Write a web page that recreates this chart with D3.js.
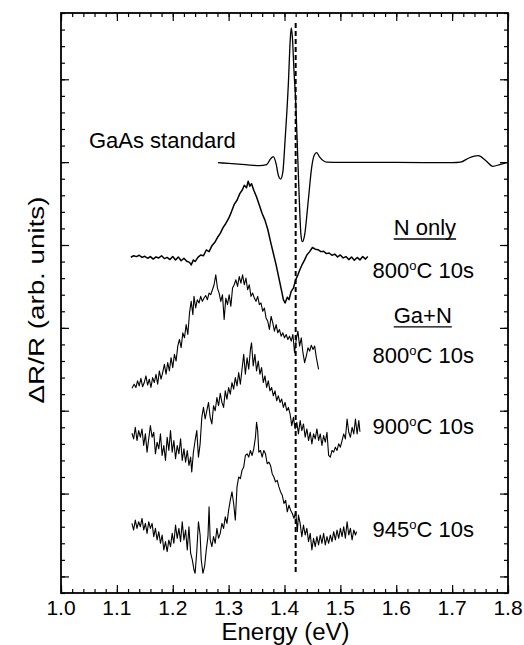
<!DOCTYPE html>
<html>
<head>
<meta charset="utf-8">
<script src="https://cdn.jsdelivr.net/npm/d3@7"></script>
<style>
  body { margin: 0; background: #fff; }
  text { font-family: Arial, "Liberation Sans", sans-serif; fill: #000; }
</style>
</head>
<body>
<div class="canvas" id="canvas" style="width:524px;height:645px"></div>
<script>
// data: [energy (eV), dR/R in arb. units]
var gaasStd = [[1.281,25.97],[1.30,25.92],[1.33,25.85],[1.355,25.79],[1.368,25.85],[1.375,26.2],[1.380,26.33],[1.385,25.9],[1.389,25.2],[1.393,24.98],[1.397,25.4],[1.401,27.3],[1.407,30.8],[1.410,33.2],[1.412,34.1],[1.414,33.6],[1.417,31.5],[1.420,29.7],[1.4235,26.5],[1.4265,23.7],[1.4295,21.6],[1.432,21.2],[1.436,21.6],[1.4426,23.7],[1.4487,25.7],[1.453,26.4],[1.4576,26.57],[1.463,26.3],[1.4755,26.0],[1.50,25.98],[1.60,25.98],[1.70,25.97],[1.715,26.0],[1.73,26.25],[1.747,26.39],[1.76,26.1],[1.773,25.75],[1.785,25.85],[1.797,25.97]];

var nOnly = [[1.125,20.26],[1.130,20.35],[1.135,20.30],[1.140,20.38],[1.145,20.25],[1.150,20.32],[1.155,20.20],[1.160,20.30],[1.165,20.15],[1.170,20.28],[1.175,20.22],[1.180,20.35],[1.185,20.18],[1.190,20.25],[1.195,20.12],[1.200,20.30],[1.205,20.10],[1.210,20.28],[1.215,20.05],[1.220,20.20],[1.225,20.02],[1.230,19.95],[1.233,19.80],[1.237,20.10],[1.240,20.00],[1.245,20.25],[1.250,20.40],[1.255,20.35],[1.260,20.70],[1.265,20.60],[1.270,20.95],[1.275,21.15],[1.280,21.45],[1.285,21.70],[1.290,22.05],[1.295,22.30],[1.300,22.60],[1.305,23.00],[1.310,23.45],[1.315,23.70],[1.320,24.10],[1.325,24.35],[1.328,24.60],[1.332,24.45],[1.335,24.85],[1.338,24.55],[1.341,24.70],[1.345,24.30],[1.350,23.90],[1.355,23.40],[1.360,22.90],[1.365,22.50],[1.370,21.95],[1.375,21.20],[1.380,20.50],[1.385,19.80],[1.390,19.00],[1.395,18.20],[1.398,17.70],[1.401,17.50],[1.405,17.85],[1.408,17.70],[1.412,18.20],[1.416,18.40],[1.420,18.90],[1.424,19.20],[1.428,19.55],[1.432,19.85],[1.436,20.10],[1.440,20.40],[1.445,20.60],[1.450,20.85],[1.455,20.75],[1.460,20.72],[1.465,20.60],[1.470,20.62],[1.475,20.48],[1.480,20.52],[1.485,20.38],[1.490,20.45],[1.495,20.28],[1.500,20.40],[1.505,20.22],[1.510,20.30],[1.515,20.12],[1.520,20.28],[1.525,20.08],[1.530,20.25],[1.535,20.10],[1.540,20.30],[1.545,20.15],[1.549,20.30]];

var gaN800 = [[1.127,12.35],[1.131,12.60],[1.134,12.40],[1.137,12.80],[1.140,12.50],[1.143,12.95],[1.146,12.45],[1.149,12.70],[1.152,13.10],[1.155,12.55],[1.158,12.90],[1.161,12.40],[1.164,13.00],[1.167,12.70],[1.170,13.20],[1.173,12.60],[1.176,13.40],[1.179,12.90],[1.182,13.30],[1.185,13.80],[1.188,13.20],[1.191,13.90],[1.194,13.40],[1.197,14.20],[1.200,13.60],[1.203,14.40],[1.206,14.00],[1.209,14.90],[1.212,15.30],[1.215,14.80],[1.218,15.70],[1.221,15.40],[1.224,16.20],[1.227,15.60],[1.230,16.90],[1.233,17.60],[1.236,16.80],[1.238,17.90],[1.241,17.20],[1.244,17.70],[1.247,17.50],[1.250,17.90],[1.253,17.60],[1.256,17.80],[1.259,17.95],[1.262,17.70],[1.265,18.10],[1.268,18.00],[1.271,18.30],[1.274,18.60],[1.277,19.20],[1.280,18.40],[1.283,18.10],[1.286,17.60],[1.289,18.00],[1.292,16.50],[1.295,17.80],[1.298,17.40],[1.301,18.00],[1.304,17.30],[1.307,18.40],[1.310,18.60],[1.313,18.90],[1.316,18.50],[1.319,19.10],[1.322,18.70],[1.325,19.20],[1.328,18.60],[1.331,19.00],[1.334,18.30],[1.337,18.60],[1.340,17.90],[1.343,18.10],[1.346,17.80],[1.349,17.60],[1.352,17.90],[1.355,17.40],[1.358,17.50],[1.361,17.00],[1.364,17.20],[1.367,16.60],[1.370,16.40],[1.373,15.90],[1.376,16.70],[1.379,16.30],[1.382,15.80],[1.385,16.20],[1.388,15.70],[1.391,15.90],[1.394,15.50],[1.397,15.70],[1.400,15.40],[1.403,15.60],[1.406,15.30],[1.409,15.50],[1.412,15.20],[1.415,15.60],[1.418,14.50],[1.421,15.30],[1.424,15.80],[1.427,14.90],[1.430,15.40],[1.433,14.50],[1.436,13.90],[1.439,14.30],[1.442,14.80],[1.445,14.60],[1.448,14.95],[1.451,14.70],[1.454,14.90],[1.457,14.20],[1.461,13.50]];

var gaN900 = [[1.127,9.64],[1.130,9.30],[1.133,10.00],[1.136,9.20],[1.139,9.80],[1.142,9.40],[1.145,9.90],[1.148,8.90],[1.151,9.60],[1.154,8.50],[1.157,9.30],[1.160,10.10],[1.163,9.40],[1.166,9.70],[1.169,8.40],[1.172,9.10],[1.175,8.70],[1.178,9.60],[1.181,8.30],[1.184,8.90],[1.187,8.00],[1.190,9.40],[1.193,8.60],[1.196,9.80],[1.199,8.50],[1.202,9.20],[1.205,8.10],[1.208,8.90],[1.211,8.40],[1.214,9.30],[1.217,8.00],[1.220,8.70],[1.223,7.90],[1.226,8.60],[1.229,7.70],[1.232,8.20],[1.234,7.30],[1.237,8.50],[1.240,9.20],[1.243,9.80],[1.246,8.20],[1.249,9.00],[1.252,10.60],[1.255,11.20],[1.258,10.50],[1.261,11.00],[1.264,11.50],[1.267,10.60],[1.270,10.20],[1.273,11.30],[1.276,11.00],[1.279,11.80],[1.282,11.30],[1.285,12.05],[1.288,11.50],[1.291,11.20],[1.294,12.20],[1.297,11.70],[1.300,12.40],[1.303,12.00],[1.306,12.70],[1.309,12.30],[1.312,13.00],[1.315,12.50],[1.318,13.30],[1.321,12.60],[1.324,13.50],[1.327,14.40],[1.330,13.20],[1.333,14.20],[1.336,13.50],[1.339,14.70],[1.341,15.10],[1.344,13.70],[1.347,14.40],[1.350,13.40],[1.353,14.00],[1.356,13.20],[1.359,13.60],[1.362,12.70],[1.365,13.10],[1.368,12.40],[1.371,12.80],[1.374,12.20],[1.377,12.40],[1.380,11.90],[1.383,12.20],[1.386,11.60],[1.389,11.90],[1.392,11.50],[1.395,11.70],[1.398,11.20],[1.401,11.50],[1.404,11.00],[1.407,11.20],[1.410,10.80],[1.413,10.10],[1.416,10.60],[1.419,9.90],[1.422,10.30],[1.425,9.60],[1.428,10.40],[1.431,9.80],[1.434,10.20],[1.437,9.40],[1.440,9.90],[1.443,9.20],[1.446,9.70],[1.449,9.00],[1.452,9.60],[1.455,9.30],[1.458,9.90],[1.461,9.20],[1.464,9.60],[1.467,8.90],[1.470,9.50],[1.473,9.10],[1.476,9.70],[1.479,8.30],[1.482,8.20],[1.485,8.60],[1.488,8.50],[1.491,8.80],[1.494,8.60],[1.497,9.00],[1.500,8.80],[1.503,9.20],[1.506,9.60],[1.509,9.30],[1.512,10.50],[1.515,9.70],[1.518,9.40],[1.521,10.00],[1.524,9.60],[1.527,10.50],[1.530,9.60],[1.533,10.40],[1.535,9.73]];

var gaN945 = [[1.127,4.20],[1.130,3.80],[1.133,4.40],[1.136,3.90],[1.139,4.30],[1.142,4.00],[1.145,4.50],[1.148,3.80],[1.151,4.20],[1.154,3.60],[1.157,4.30],[1.160,3.90],[1.163,4.20],[1.166,3.40],[1.169,3.90],[1.172,3.20],[1.175,3.70],[1.178,3.00],[1.181,3.50],[1.184,2.60],[1.187,3.10],[1.190,2.50],[1.193,3.20],[1.196,2.80],[1.199,3.60],[1.202,3.00],[1.205,4.10],[1.208,3.30],[1.211,3.90],[1.214,3.10],[1.217,4.30],[1.220,3.20],[1.223,3.80],[1.226,2.60],[1.229,4.00],[1.232,2.40],[1.235,2.00],[1.238,1.40],[1.240,1.19],[1.243,2.50],[1.246,4.30],[1.249,3.50],[1.251,2.00],[1.254,1.19],[1.257,1.60],[1.260,2.60],[1.263,3.40],[1.265,5.20],[1.267,3.20],[1.270,2.80],[1.273,3.40],[1.276,3.00],[1.279,3.90],[1.282,3.30],[1.285,3.60],[1.288,4.20],[1.291,3.90],[1.294,4.60],[1.297,4.20],[1.300,5.00],[1.303,5.60],[1.306,6.10],[1.309,5.40],[1.312,4.40],[1.315,6.40],[1.318,7.00],[1.321,6.90],[1.324,7.40],[1.327,7.60],[1.330,8.30],[1.333,8.40],[1.336,8.20],[1.339,8.60],[1.342,8.30],[1.345,8.70],[1.348,9.40],[1.350,10.30],[1.352,9.80],[1.354,8.50],[1.357,8.60],[1.360,8.20],[1.363,8.60],[1.366,8.40],[1.369,7.80],[1.372,7.90],[1.375,7.70],[1.378,7.20],[1.381,7.00],[1.384,6.70],[1.387,6.80],[1.390,6.40],[1.393,6.10],[1.396,5.90],[1.399,5.40],[1.402,5.60],[1.405,4.90],[1.408,5.30],[1.411,5.00],[1.414,4.80],[1.417,4.50],[1.420,4.90],[1.423,3.70],[1.425,4.70],[1.428,4.20],[1.431,3.40],[1.434,4.10],[1.437,3.50],[1.440,3.90],[1.443,3.10],[1.446,3.60],[1.449,2.60],[1.452,3.30],[1.455,2.80],[1.458,3.40],[1.461,2.90],[1.464,3.50],[1.467,3.00],[1.470,3.60],[1.473,2.90],[1.476,3.40],[1.479,3.00],[1.482,3.50],[1.485,3.10],[1.488,3.70],[1.491,3.20],[1.494,3.80],[1.497,3.30],[1.500,3.90],[1.503,3.40],[1.506,4.00],[1.509,3.30],[1.512,4.30],[1.515,3.50],[1.518,3.90],[1.521,3.20],[1.524,3.80],[1.527,3.50],[1.529,3.70]];

// GaAs band gap marker
var gapEnergy = 1.42;

var xTicks = [1.0,1.1,1.2,1.3,1.4,1.5,1.6,1.7,1.8];
var yMajor = [1,6,11,16,21,26,31];

// labels next to the traces
var labels = [
    {text:'GaAs standard', x:1.050, y:26.85},
    {text:'N only', x:1.5955, y:21.6, under:true},
    {text:'800', deg:true, x:1.5575, y:18.99},
    {text:'Ga+N', x:1.5955, y:16.3, under:true},
    {text:'800', deg:true, x:1.5575, y:13.86},
    {text:'900', deg:true, x:1.5575, y:9.57},
    {text:'945', deg:true, x:1.5575, y:3.36}
];

var m = {t:13,r:16,b:52,l:61},
    w = 524 - m.l - m.r,
    h = 645 - m.t - m.b;

var svg = d3.select('.canvas')
    .append('svg')
    .attr('width', 524)
    .attr('height', 645);

var plot = svg.append('g').attr('class','plot')
    .attr('transform','translate('+ m.l+','+ m.t+')');

var scaleX = d3.scaleLinear().domain([1.0,1.8]).range([0,w]);
var scaleY = d3.scaleLinear().domain([0,35]).range([h,0]);

//axes - ticks point inward on all four sides
var minorX = d3.range(1.0,1.8001,0.02);
var minorY = d3.range(0,35.001,1);

function tickAxis(axis, len){
    return axis.tickSizeInner(len).tickSizeOuter(0).tickFormat('');
}

plot.append('g').attr('transform','translate(0,'+h+')')
    .call(tickAxis(d3.axisTop(scaleX).tickValues(minorX), 4));
plot.append('g').attr('transform','translate(0,'+h+')')
    .call(tickAxis(d3.axisTop(scaleX).tickValues(xTicks), 8));
plot.append('g')
    .call(tickAxis(d3.axisBottom(scaleX).tickValues(minorX), 4));
plot.append('g')
    .call(tickAxis(d3.axisBottom(scaleX).tickValues(xTicks), 8));
plot.append('g')
    .call(tickAxis(d3.axisRight(scaleY).tickValues(minorY), 4));
plot.append('g')
    .call(tickAxis(d3.axisRight(scaleY).tickValues(yMajor), 8));
plot.append('g').attr('transform','translate('+w+',0)')
    .call(tickAxis(d3.axisLeft(scaleY).tickValues(minorY), 4));
plot.append('g').attr('transform','translate('+w+',0)')
    .call(tickAxis(d3.axisLeft(scaleY).tickValues(yMajor), 8));

plot.selectAll('.domain').remove();
plot.selectAll('.tick line').attr('stroke','#000').attr('stroke-width',1.2);

// frame
plot.append('rect')
    .attr('width', w).attr('height', h)
    .attr('fill','none').attr('stroke','#000').attr('stroke-width',1.8);

// tick labels
plot.selectAll('.xlabel')
    .data(xTicks)
    .enter()
    .append('text').attr('class','xlabel')
    .attr('x', function(d){ return scaleX(d); })
    .attr('y', h + 22)
    .attr('text-anchor','middle')
    .style('font-size','21px')
    .text(function(d){ return d.toFixed(1); });

svg.append('text')
    .attr('x', m.l + w/2 + 1)
    .attr('y', 640)
    .attr('text-anchor','middle')
    .attr('textLength', 128)
    .attr('lengthAdjust','spacingAndGlyphs')
    .style('font-size','23px')
    .text('Energy (eV)');

svg.append('text')
    .attr('transform','translate(44,'+(m.t + h/2 - 3)+') rotate(-90)')
    .attr('text-anchor','middle')
    .attr('textLength', 207)
    .attr('lengthAdjust','spacingAndGlyphs')
    .style('font-size','22px')
    .text('\u0394R/R (arb. units)');

// dashed band-gap line
plot.append('line')
    .attr('x1', scaleX(gapEnergy)).attr('x2', scaleX(gapEnergy))
    .attr('y1', 10).attr('y2', scaleY(1.2))
    .attr('stroke','#000').attr('stroke-width',2)
    .attr('stroke-dasharray','5,3');

// spectra
var smooth = d3.line()
    .x(function(d){ return scaleX(d[0]); })
    .y(function(d){ return scaleY(d[1]); })
    .curve(d3.curveMonotoneX);
var raw = d3.line()
    .x(function(d){ return scaleX(d[0]); })
    .y(function(d){ return scaleY(d[1]); });

plot.append('path').datum(gaasStd)
    .attr('d', smooth).attr('fill','none').attr('stroke','#000').attr('stroke-width',1.3);

var noisy = [nOnly, gaN800, gaN900, gaN945];
plot.selectAll('.trace')
    .data(noisy)
    .enter()
    .append('path').attr('class','trace')
    .attr('d', raw)
    .attr('fill','none')
    .attr('stroke','#000')
    .attr('stroke-width', function(d,i){ return i == 0 ? 1.5 : 1.1; })
    .attr('stroke-linejoin','round');

// trace labels
labels.forEach(function(l){
    var t = plot.append('text')
        .attr('x', scaleX(l.x))
        .attr('y', scaleY(l.y))
        .style('font-size','22px');
    if (l.deg) {
        t.append('tspan').text(l.text);
        t.append('tspan').attr('dy',-8).style('font-size','13px').text('o');
        t.append('tspan').attr('dy',8).text('C 10s');
    } else {
        t.text(l.text);
    }
    if (l.under) {
        var bb = t.node().getBBox();
        plot.append('line')
            .attr('x1', bb.x).attr('x2', bb.x + bb.width)
            .attr('y1', scaleY(l.y) + 4).attr('y2', scaleY(l.y) + 4)
            .attr('stroke','#000').attr('stroke-width',1.4);
    }
});
</script>
</body>
</html>
